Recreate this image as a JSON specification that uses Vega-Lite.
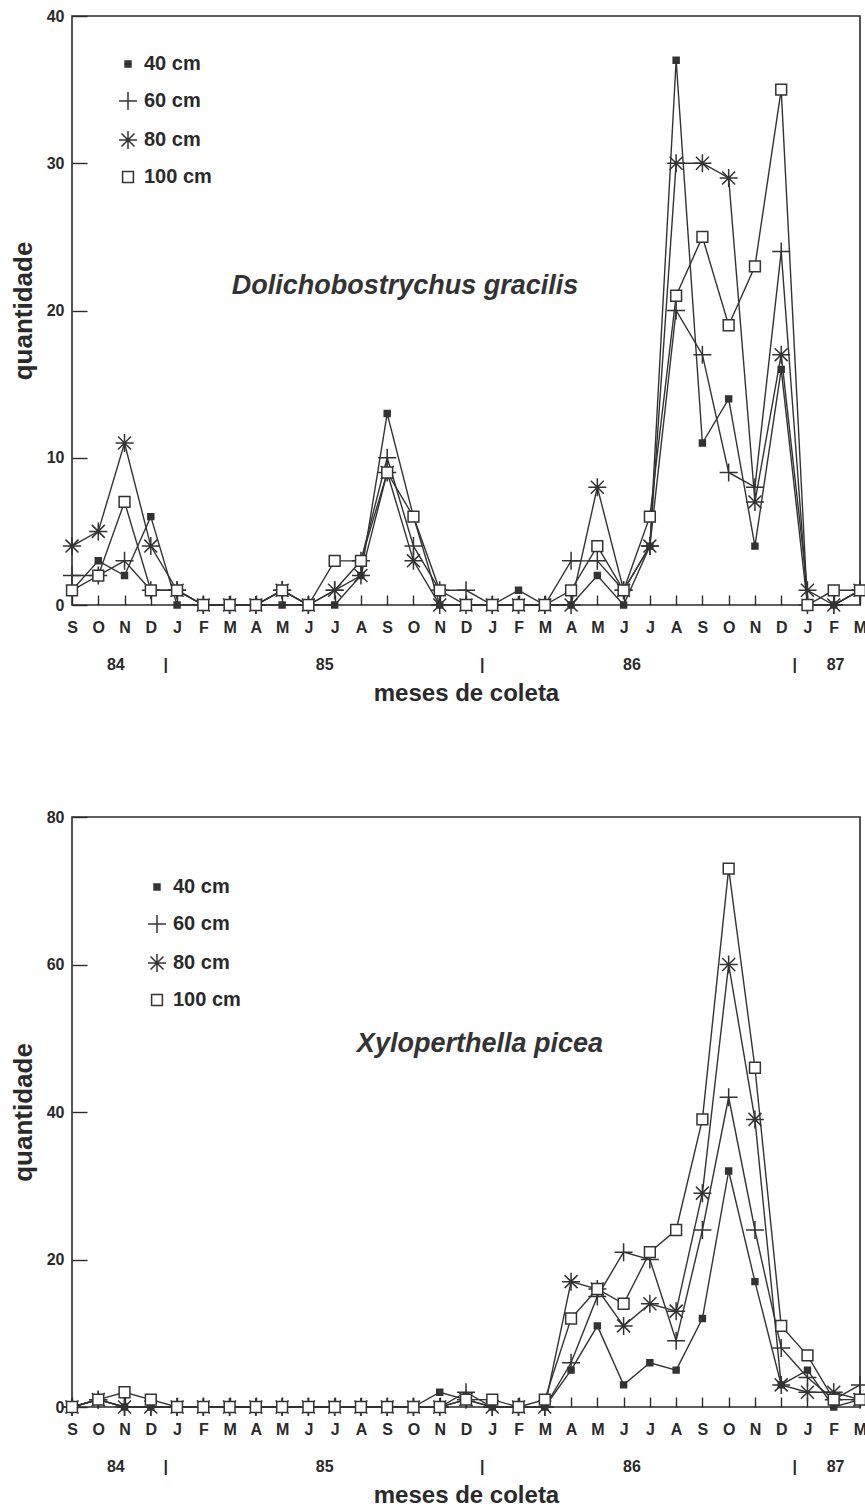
{
  "$schema": "https://vega.github.io/schema/vega-lite/v6.json",
  "background": "white",
  "padding": {"left": 9, "top": 7, "right": 5, "bottom": 0},
  "spacing": 102,
  "resolve": {"scale": {"shape": "independent", "fill": "independent", "stroke": "independent"}, "legend": {"shape": "independent", "fill": "independent", "stroke": "independent"}},
  "config": {
    "font": "Liberation Sans",
    "view": {"stroke": "#2a2a2a", "strokeWidth": 1.6},
    "axis": {"domain": false, "grid": false, "labelFont": "Liberation Sans", "labelFontWeight": "bold", "labelColor": "#2a2a2a", "labelFontSize": 16, "tickColor": "#2a2a2a", "tickWidth": 1.4, "titleFont": "Liberation Sans", "titleFontWeight": "bold", "titleColor": "#2a2a2a", "titleFontSize": 24, "labelOverlap": false, "labelFlush": false},
    "legend": {"labelFont": "Liberation Sans", "labelFontWeight": "bold", "labelFontSize": 20, "labelColor": "#2a2a2a", "symbolSize": 324, "symbolStrokeWidth": 1.5, "rowPadding": 15, "labelOffset": 6, "padding": 0}
  },
  "datasets": {
    "dol": [
      {"i":0,"s":"40 cm","n":1},{"i":0,"s":"60 cm","n":2},{"i":0,"s":"80 cm","n":4},{"i":0,"s":"100 cm","n":1},
      {"i":1,"s":"40 cm","n":3},{"i":1,"s":"60 cm","n":2},{"i":1,"s":"80 cm","n":5},{"i":1,"s":"100 cm","n":2},
      {"i":2,"s":"40 cm","n":2},{"i":2,"s":"60 cm","n":3},{"i":2,"s":"80 cm","n":11},{"i":2,"s":"100 cm","n":7},
      {"i":3,"s":"40 cm","n":6},{"i":3,"s":"60 cm","n":1},{"i":3,"s":"80 cm","n":4},{"i":3,"s":"100 cm","n":1},
      {"i":4,"s":"40 cm","n":0},{"i":4,"s":"60 cm","n":1},{"i":4,"s":"80 cm","n":1},{"i":4,"s":"100 cm","n":1},
      {"i":5,"s":"40 cm","n":0},{"i":5,"s":"60 cm","n":0},{"i":5,"s":"80 cm","n":0},{"i":5,"s":"100 cm","n":0},
      {"i":6,"s":"40 cm","n":0},{"i":6,"s":"60 cm","n":0},{"i":6,"s":"80 cm","n":0},{"i":6,"s":"100 cm","n":0},
      {"i":7,"s":"40 cm","n":0},{"i":7,"s":"60 cm","n":0},{"i":7,"s":"80 cm","n":0},{"i":7,"s":"100 cm","n":0},
      {"i":8,"s":"40 cm","n":0},{"i":8,"s":"60 cm","n":1},{"i":8,"s":"80 cm","n":1},{"i":8,"s":"100 cm","n":1},
      {"i":9,"s":"40 cm","n":0},{"i":9,"s":"60 cm","n":0},{"i":9,"s":"80 cm","n":0},{"i":9,"s":"100 cm","n":0},
      {"i":10,"s":"40 cm","n":0},{"i":10,"s":"60 cm","n":1},{"i":10,"s":"80 cm","n":1},{"i":10,"s":"100 cm","n":3},
      {"i":11,"s":"40 cm","n":2},{"i":11,"s":"60 cm","n":3},{"i":11,"s":"80 cm","n":2},{"i":11,"s":"100 cm","n":3},
      {"i":12,"s":"40 cm","n":13},{"i":12,"s":"60 cm","n":10},{"i":12,"s":"80 cm","n":9},{"i":12,"s":"100 cm","n":9},
      {"i":13,"s":"40 cm","n":6},{"i":13,"s":"60 cm","n":4},{"i":13,"s":"80 cm","n":3},{"i":13,"s":"100 cm","n":6},
      {"i":14,"s":"40 cm","n":0},{"i":14,"s":"60 cm","n":1},{"i":14,"s":"80 cm","n":0},{"i":14,"s":"100 cm","n":1},
      {"i":15,"s":"40 cm","n":0},{"i":15,"s":"60 cm","n":1},{"i":15,"s":"80 cm","n":0},{"i":15,"s":"100 cm","n":0},
      {"i":16,"s":"40 cm","n":0},{"i":16,"s":"60 cm","n":0},{"i":16,"s":"80 cm","n":0},{"i":16,"s":"100 cm","n":0},
      {"i":17,"s":"40 cm","n":1},{"i":17,"s":"60 cm","n":0},{"i":17,"s":"80 cm","n":0},{"i":17,"s":"100 cm","n":0},
      {"i":18,"s":"40 cm","n":0},{"i":18,"s":"60 cm","n":0},{"i":18,"s":"80 cm","n":0},{"i":18,"s":"100 cm","n":0},
      {"i":19,"s":"40 cm","n":0},{"i":19,"s":"60 cm","n":3},{"i":19,"s":"80 cm","n":0},{"i":19,"s":"100 cm","n":1},
      {"i":20,"s":"40 cm","n":2},{"i":20,"s":"60 cm","n":3},{"i":20,"s":"80 cm","n":8},{"i":20,"s":"100 cm","n":4},
      {"i":21,"s":"40 cm","n":0},{"i":21,"s":"60 cm","n":1},{"i":21,"s":"80 cm","n":1},{"i":21,"s":"100 cm","n":1},
      {"i":22,"s":"40 cm","n":4},{"i":22,"s":"60 cm","n":4},{"i":22,"s":"80 cm","n":4},{"i":22,"s":"100 cm","n":6},
      {"i":23,"s":"40 cm","n":37},{"i":23,"s":"60 cm","n":20},{"i":23,"s":"80 cm","n":30},{"i":23,"s":"100 cm","n":21},
      {"i":24,"s":"40 cm","n":11},{"i":24,"s":"60 cm","n":17},{"i":24,"s":"80 cm","n":30},{"i":24,"s":"100 cm","n":25},
      {"i":25,"s":"40 cm","n":14},{"i":25,"s":"60 cm","n":9},{"i":25,"s":"80 cm","n":29},{"i":25,"s":"100 cm","n":19},
      {"i":26,"s":"40 cm","n":4},{"i":26,"s":"60 cm","n":8},{"i":26,"s":"80 cm","n":7},{"i":26,"s":"100 cm","n":23},
      {"i":27,"s":"40 cm","n":16},{"i":27,"s":"60 cm","n":24},{"i":27,"s":"80 cm","n":17},{"i":27,"s":"100 cm","n":35},
      {"i":28,"s":"40 cm","n":0},{"i":28,"s":"60 cm","n":0},{"i":28,"s":"80 cm","n":1},{"i":28,"s":"100 cm","n":0},
      {"i":29,"s":"40 cm","n":0},{"i":29,"s":"60 cm","n":0},{"i":29,"s":"80 cm","n":0},{"i":29,"s":"100 cm","n":1},
      {"i":30,"s":"40 cm","n":1},{"i":30,"s":"60 cm","n":1},{"i":30,"s":"80 cm","n":1},{"i":30,"s":"100 cm","n":1}
    ],
    "xyl": [
      {"i":0,"s":"40 cm","n":0},{"i":0,"s":"60 cm","n":0},{"i":0,"s":"80 cm","n":0},{"i":0,"s":"100 cm","n":0},
      {"i":1,"s":"40 cm","n":1},{"i":1,"s":"60 cm","n":1},{"i":1,"s":"80 cm","n":1},{"i":1,"s":"100 cm","n":1},
      {"i":2,"s":"40 cm","n":0},{"i":2,"s":"60 cm","n":0},{"i":2,"s":"80 cm","n":0},{"i":2,"s":"100 cm","n":2},
      {"i":3,"s":"40 cm","n":0},{"i":3,"s":"60 cm","n":0},{"i":3,"s":"80 cm","n":0},{"i":3,"s":"100 cm","n":1},
      {"i":4,"s":"40 cm","n":0},{"i":4,"s":"60 cm","n":0},{"i":4,"s":"80 cm","n":0},{"i":4,"s":"100 cm","n":0},
      {"i":5,"s":"40 cm","n":0},{"i":5,"s":"60 cm","n":0},{"i":5,"s":"80 cm","n":0},{"i":5,"s":"100 cm","n":0},
      {"i":6,"s":"40 cm","n":0},{"i":6,"s":"60 cm","n":0},{"i":6,"s":"80 cm","n":0},{"i":6,"s":"100 cm","n":0},
      {"i":7,"s":"40 cm","n":0},{"i":7,"s":"60 cm","n":0},{"i":7,"s":"80 cm","n":0},{"i":7,"s":"100 cm","n":0},
      {"i":8,"s":"40 cm","n":0},{"i":8,"s":"60 cm","n":0},{"i":8,"s":"80 cm","n":0},{"i":8,"s":"100 cm","n":0},
      {"i":9,"s":"40 cm","n":0},{"i":9,"s":"60 cm","n":0},{"i":9,"s":"80 cm","n":0},{"i":9,"s":"100 cm","n":0},
      {"i":10,"s":"40 cm","n":0},{"i":10,"s":"60 cm","n":0},{"i":10,"s":"80 cm","n":0},{"i":10,"s":"100 cm","n":0},
      {"i":11,"s":"40 cm","n":0},{"i":11,"s":"60 cm","n":0},{"i":11,"s":"80 cm","n":0},{"i":11,"s":"100 cm","n":0},
      {"i":12,"s":"40 cm","n":0},{"i":12,"s":"60 cm","n":0},{"i":12,"s":"80 cm","n":0},{"i":12,"s":"100 cm","n":0},
      {"i":13,"s":"40 cm","n":0},{"i":13,"s":"60 cm","n":0},{"i":13,"s":"80 cm","n":0},{"i":13,"s":"100 cm","n":0},
      {"i":14,"s":"40 cm","n":2},{"i":14,"s":"60 cm","n":0},{"i":14,"s":"80 cm","n":0},{"i":14,"s":"100 cm","n":0},
      {"i":15,"s":"40 cm","n":1},{"i":15,"s":"60 cm","n":2},{"i":15,"s":"80 cm","n":1},{"i":15,"s":"100 cm","n":1},
      {"i":16,"s":"40 cm","n":0},{"i":16,"s":"60 cm","n":0},{"i":16,"s":"80 cm","n":0},{"i":16,"s":"100 cm","n":1},
      {"i":17,"s":"40 cm","n":0},{"i":17,"s":"60 cm","n":0},{"i":17,"s":"80 cm","n":0},{"i":17,"s":"100 cm","n":0},
      {"i":18,"s":"40 cm","n":0},{"i":18,"s":"60 cm","n":0},{"i":18,"s":"80 cm","n":0},{"i":18,"s":"100 cm","n":1},
      {"i":19,"s":"40 cm","n":5},{"i":19,"s":"60 cm","n":6},{"i":19,"s":"80 cm","n":17},{"i":19,"s":"100 cm","n":12},
      {"i":20,"s":"40 cm","n":11},{"i":20,"s":"60 cm","n":15},{"i":20,"s":"80 cm","n":16},{"i":20,"s":"100 cm","n":16},
      {"i":21,"s":"40 cm","n":3},{"i":21,"s":"60 cm","n":21},{"i":21,"s":"80 cm","n":11},{"i":21,"s":"100 cm","n":14},
      {"i":22,"s":"40 cm","n":6},{"i":22,"s":"60 cm","n":20},{"i":22,"s":"80 cm","n":14},{"i":22,"s":"100 cm","n":21},
      {"i":23,"s":"40 cm","n":5},{"i":23,"s":"60 cm","n":9},{"i":23,"s":"80 cm","n":13},{"i":23,"s":"100 cm","n":24},
      {"i":24,"s":"40 cm","n":12},{"i":24,"s":"60 cm","n":24},{"i":24,"s":"80 cm","n":29},{"i":24,"s":"100 cm","n":39},
      {"i":25,"s":"40 cm","n":32},{"i":25,"s":"60 cm","n":42},{"i":25,"s":"80 cm","n":60},{"i":25,"s":"100 cm","n":73},
      {"i":26,"s":"40 cm","n":17},{"i":26,"s":"60 cm","n":24},{"i":26,"s":"80 cm","n":39},{"i":26,"s":"100 cm","n":46},
      {"i":27,"s":"40 cm","n":3},{"i":27,"s":"60 cm","n":8},{"i":27,"s":"80 cm","n":3},{"i":27,"s":"100 cm","n":11},
      {"i":28,"s":"40 cm","n":5},{"i":28,"s":"60 cm","n":4},{"i":28,"s":"80 cm","n":2},{"i":28,"s":"100 cm","n":7},
      {"i":29,"s":"40 cm","n":0},{"i":29,"s":"60 cm","n":1},{"i":29,"s":"80 cm","n":2},{"i":29,"s":"100 cm","n":1},
      {"i":30,"s":"40 cm","n":1},{"i":30,"s":"60 cm","n":3},{"i":30,"s":"80 cm","n":1},{"i":30,"s":"100 cm","n":1}
    ],
    "anos": [
      {"i":1.65,"t":"84"},{"i":3.55,"t":"|"},{"i":9.6,"t":"85"},{"i":15.6,"t":"|"},{"i":21.3,"t":"86"},{"i":27.5,"t":"|"},{"i":29.05,"t":"87"}
    ]
  },
  "vconcat": [
    {
      "width": 788,
      "height": 589,
      "resolve": {"axis": {"x": "independent"}},
      "layer": [
        {
          "data": {"name": "dol"},
          "mark": {"type": "line", "color": "#333333", "strokeWidth": 1.4},
          "encoding": {
            "x": {"field": "i", "type": "quantitative", "scale": {"domain": [0, 30], "nice": false, "zero": false},
              "axis": {"orient": "bottom", "values": [0,1,2,3,4,5,6,7,8,9,10,11,12,13,14,15,16,17,18,19,20,21,22,23,24,25,26,27,28,29,30], "labelExpr": "['S','O','N','D','J','F','M','A','M','J','J','A','S','O','N','D','J','F','M','A','M','J','J','A','S','O','N','D','J','F','M'][datum.value]", "tickSize": -10, "labelPadding": 24, "title": null}},
            "y": {"field": "n", "type": "quantitative", "scale": {"domain": [0, 40], "nice": false},
              "axis": {"values": [0,10,20,30,40], "tickSize": -15, "labelPadding": 23, "title": "quantidade", "titlePadding": 10, "titleFontSize": 26}},
            "detail": {"field": "s", "type": "nominal"}
          }
        },
        {
          "data": {"name": "dol"},
          "mark": {"type": "point", "opacity": 1, "strokeWidth": 1.5, "size": 324},
          "encoding": {
            "x": {"field": "i", "type": "quantitative", "axis": null},
            "y": {"field": "n", "type": "quantitative"},
            "shape": {"field": "s", "type": "nominal",
              "scale": {"domain": ["40 cm","60 cm","80 cm","100 cm"], "range": ["M-0.33,-0.33H0.33V0.33H-0.33Z", "M-1,0H1M0,-1V1", "M-1,0H1M0,-1V1M-0.72,-0.72L0.72,0.72M-0.72,0.72L0.72,-0.72", "M-0.6,-0.6H0.6V0.6H-0.6Z"]},
              "legend": {"orient": "none", "legendX": 46, "legendY": 38, "title": null}},
            "fill": {"field": "s", "type": "nominal", "scale": {"domain": ["40 cm","60 cm","80 cm","100 cm"], "range": ["#333333","#333333","#333333","#ffffff"]},
              "legend": {"orient": "none", "legendX": 46, "legendY": 38, "title": null}},
            "stroke": {"field": "s", "type": "nominal", "scale": {"domain": ["40 cm","60 cm","80 cm","100 cm"], "range": ["#333333","#333333","#333333","#333333"]},
              "legend": {"orient": "none", "legendX": 46, "legendY": 38, "title": null}}
          }
        },
        {
          "data": {"name": "anos"},
          "mark": {"type": "rule", "opacity": 0},
          "encoding": {
            "x": {"field": "i", "type": "quantitative",
              "axis": {"orient": "bottom", "values": [1.65,3.55,9.6,15.6,21.3,27.5,29.05], "labelExpr": "datum.value < 2 ? '84' : datum.value < 4 ? '|' : datum.value < 10 ? '85' : datum.value < 16 ? '|' : datum.value < 22 ? '86' : datum.value < 28 ? '|' : '87'", "ticks": false, "tickSize": 0, "labelPadding": 51, "labelFontSize": 16, "title": "meses de coleta", "titlePadding": 9}}
          }
        },
        {
          "data": {"values": [{"i": 12.68, "n": 21.66, "t": "Dolichobostrychus gracilis"}]},
          "mark": {"type": "text", "font": "Liberation Sans", "fontStyle": "italic", "fontWeight": "bold", "fontSize": 27, "color": "#333333", "align": "center", "baseline": "middle"},
          "encoding": {
            "x": {"field": "i", "type": "quantitative", "axis": null},
            "y": {"field": "n", "type": "quantitative"},
            "text": {"field": "t"}
          }
        }
      ]
    },
    {
      "width": 788,
      "height": 590,
      "resolve": {"axis": {"x": "independent"}},
      "layer": [
        {
          "data": {"name": "xyl"},
          "mark": {"type": "line", "color": "#333333", "strokeWidth": 1.4},
          "encoding": {
            "x": {"field": "i", "type": "quantitative", "scale": {"domain": [0, 30], "nice": false, "zero": false},
              "axis": {"orient": "bottom", "values": [0,1,2,3,4,5,6,7,8,9,10,11,12,13,14,15,16,17,18,19,20,21,22,23,24,25,26,27,28,29,30], "labelExpr": "['S','O','N','D','J','F','M','A','M','J','J','A','S','O','N','D','J','F','M','A','M','J','J','A','S','O','N','D','J','F','M'][datum.value]", "tickSize": -10, "labelPadding": 24, "title": null}},
            "y": {"field": "n", "type": "quantitative", "scale": {"domain": [0, 80], "nice": false},
              "axis": {"values": [0,20,40,60,80], "tickSize": -15, "labelPadding": 23, "title": "quantidade", "titlePadding": 10, "titleFontSize": 26}},
            "detail": {"field": "s", "type": "nominal"}
          }
        },
        {
          "data": {"name": "xyl"},
          "mark": {"type": "point", "opacity": 1, "strokeWidth": 1.5, "size": 324},
          "encoding": {
            "x": {"field": "i", "type": "quantitative", "axis": null},
            "y": {"field": "n", "type": "quantitative"},
            "shape": {"field": "s", "type": "nominal",
              "scale": {"domain": ["40 cm","60 cm","80 cm","100 cm"], "range": ["M-0.33,-0.33H0.33V0.33H-0.33Z", "M-1,0H1M0,-1V1", "M-1,0H1M0,-1V1M-0.72,-0.72L0.72,0.72M-0.72,0.72L0.72,-0.72", "M-0.6,-0.6H0.6V0.6H-0.6Z"]},
              "legend": {"orient": "none", "legendX": 75, "legendY": 60, "title": null}},
            "fill": {"field": "s", "type": "nominal", "scale": {"domain": ["40 cm","60 cm","80 cm","100 cm"], "range": ["#333333","#333333","#333333","#ffffff"]},
              "legend": {"orient": "none", "legendX": 75, "legendY": 60, "title": null}},
            "stroke": {"field": "s", "type": "nominal", "scale": {"domain": ["40 cm","60 cm","80 cm","100 cm"], "range": ["#333333","#333333","#333333","#333333"]},
              "legend": {"orient": "none", "legendX": 75, "legendY": 60, "title": null}}
          }
        },
        {
          "data": {"name": "anos"},
          "mark": {"type": "rule", "opacity": 0},
          "encoding": {
            "x": {"field": "i", "type": "quantitative",
              "axis": {"orient": "bottom", "values": [1.65,3.55,9.6,15.6,21.3,27.5,29.05], "labelExpr": "datum.value < 2 ? '84' : datum.value < 4 ? '|' : datum.value < 10 ? '85' : datum.value < 16 ? '|' : datum.value < 22 ? '86' : datum.value < 28 ? '|' : '87'", "ticks": false, "tickSize": 0, "labelPadding": 51, "labelFontSize": 16, "title": "meses de coleta", "titlePadding": 9}}
          }
        },
        {
          "data": {"values": [{"i": 15.53, "n": 49.2, "t": "Xyloperthella picea"}]},
          "mark": {"type": "text", "font": "Liberation Sans", "fontStyle": "italic", "fontWeight": "bold", "fontSize": 27, "color": "#333333", "align": "center", "baseline": "middle"},
          "encoding": {
            "x": {"field": "i", "type": "quantitative", "axis": null},
            "y": {"field": "n", "type": "quantitative"},
            "text": {"field": "t"}
          }
        }
      ]
    }
  ]
}
